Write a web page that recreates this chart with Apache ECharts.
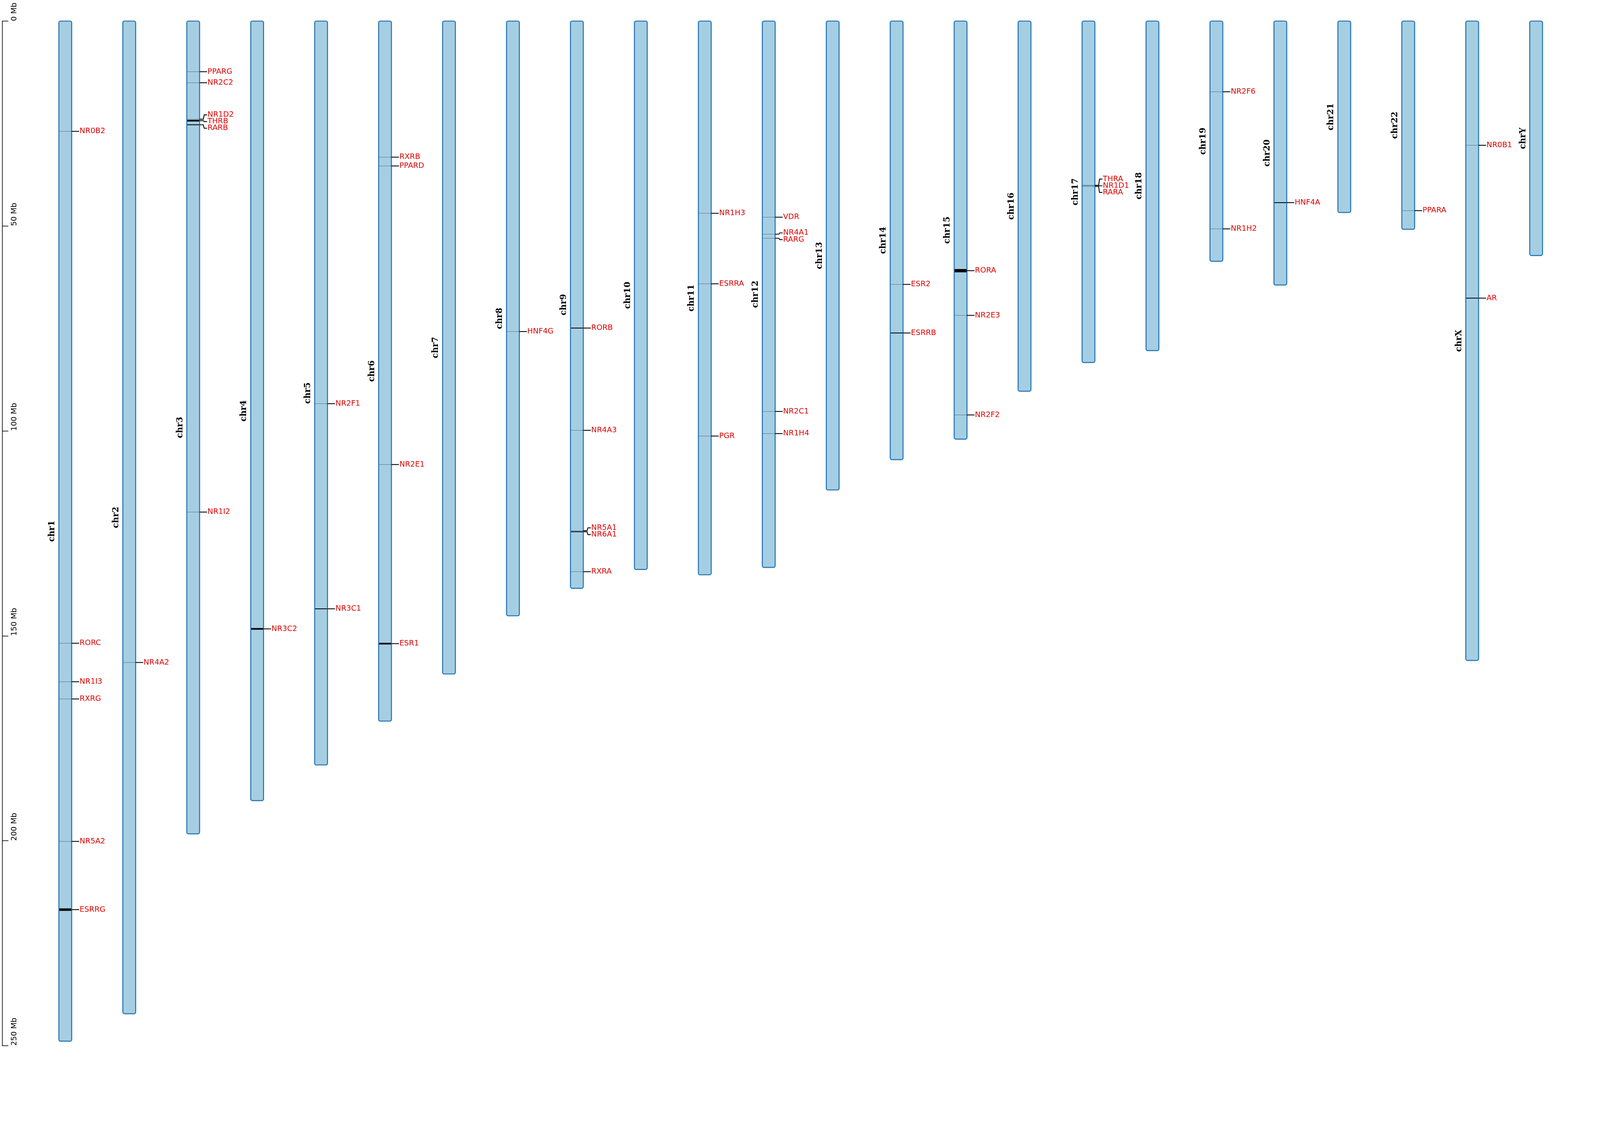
<!DOCTYPE html>
<html><head><meta charset="utf-8">
<script src="https://cdn.jsdelivr.net/npm/echarts@6/dist/echarts.min.js"></script>
<style>html,body{margin:0;padding:0;background:#fff;overflow:hidden}#c{width:100vw;height:100vh}</style>
</head><body><div id="c"></div>
<script>
const chromosomes = ['chr1','chr2','chr3','chr4','chr5','chr6','chr7','chr8','chr9','chr10','chr11','chr12','chr13','chr14','chr15','chr16','chr17','chr18','chr19','chr20','chr21','chr22','chrX','chrY'];
const chromLengthMb = [248.9,242.2,198.3,190.2,181.5,170.8,159.3,145.1,138.4,133.8,135.1,133.3,114.4,107.0,102.0,90.3,83.3,80.4,58.6,64.4,46.7,50.8,156.0,57.2];
const geneNames = ['NR0B2','RORC','NR1I3','RXRG','NR5A2','ESRRG','NR4A2','PPARG','NR2C2','NR1D2','THRB','RARB','NR1I2','NR3C2','NR2F1','NR3C1','RXRB','PPARD','NR2E1','ESR1','HNF4G','RORB','NR4A3','NR5A1','NR6A1','RXRA','NR1H3','ESRRA','PGR','VDR','NR4A1','RARG','NR2C1','NR1H4','ESR2','ESRRB','RORA','NR2E3','NR2F2','THRA','NR1D1','RARA','NR2F6','NR1H2','HNF4A','PPARA','NR0B1','AR'];
const geneChrom = ['chr1','chr1','chr1','chr1','chr1','chr1','chr2','chr3','chr3','chr3','chr3','chr3','chr3','chr4','chr5','chr5','chr6','chr6','chr6','chr6','chr8','chr9','chr9','chr9','chr9','chr9','chr11','chr11','chr11','chr12','chr12','chr12','chr12','chr12','chr14','chr14','chr15','chr15','chr15','chr17','chr17','chr17','chr19','chr19','chr20','chr22','chrX','chrX'];
const geneStartMb = [26.9,151.8,161.2,165.4,200.1,216.5,156.5,12.3,15.0,23.9,24.1,25.2,119.8,148.1,93.3,143.3,33.2,35.3,108.2,151.7,75.7,74.8,99.8,124.3,124.5,134.3,46.9,64.1,101.2,47.8,52.0,53.0,95.2,100.6,64.2,76.0,60.5,71.8,96.1,40.1,40.1,40.3,17.2,50.7,44.2,46.2,30.3,67.5];
const geneEndMb   = [26.9,151.8,161.2,165.4,200.2,217.1,156.5,12.4,15.1,24.0,24.5,25.4,119.8,148.5,93.4,143.5,33.2,35.4,108.2,152.1,75.8,75.0,99.9,124.4,124.7,134.4,46.9,64.1,101.3,47.9,52.0,53.0,95.3,100.7,64.3,76.2,61.3,71.8,96.1,40.1,40.1,40.4,17.3,50.7,44.4,46.3,30.3,67.7];
const axisTicksMb = [0,50,100,150,200,250];
const axisTickLabels = ['0 Mb','50 Mb','100 Mb','150 Mb','200 Mb','250 Mb'];

const el = document.getElementById('c');
const W = el.clientWidth, H = el.clientHeight;
const S = W/7646, SY = H/2940;
const chart = echarts.init(el);
const PITCH = 305.6, LEFT = 10, FIRST = 312;
const xmin = -(FIRST-LEFT)/PITCH, xmax = xmin + (7646-LEFT)/PITCH;
const HALFW = 0.1;

const chromData = chromosomes.map((c,i)=>[i, 0, chromLengthMb[i]]);
const geneData = geneNames.map((g,i)=>[chromosomes.indexOf(geneChrom[i]), geneStartMb[i], geneEndMb[i]]);

function layoutLabels(api){
  const res = new Array(geneData.length);
  const SP = 32*S;
  chromosomes.forEach((c,ci)=>{
    const idx = geneData.map((d,i)=>i).filter(i=>geneData[i][0]===ci)
      .sort((a,b)=>(geneData[a][1]+geneData[a][2])-(geneData[b][1]+geneData[b][2]));
    let groups = idx.map(i=>{const y=(api.coord([0,geneData[i][1]])[1]+api.coord([0,geneData[i][2]])[1])/2; return {ids:[i], ys:[y]};});
    const place = g=>{const m=g.ys.reduce((a,b)=>a+b,0)/g.ys.length; g.top = m-(g.ids.length-1)*SP/2;};
    groups.forEach(place);
    let changed = true;
    while(changed){
      changed=false;
      for(let k=0;k<groups.length-1;k++){
        const a=groups[k], b=groups[k+1];
        if(a.top+(a.ids.length)*SP > b.top){
          a.ids=a.ids.concat(b.ids); a.ys=a.ys.concat(b.ys); place(a);
          groups.splice(k+1,1); changed=true; break;
        }
      }
    }
    groups.forEach(g=>g.ids.forEach((id,k)=>res[id]=g.top+k*SP));
  });
  return res;
}
let labelYs = null;

const option = {
  animation:false,
  backgroundColor:'#fff',
  grid:{left:LEFT*S,right:0,top:54*SY,bottom:262*SY},
  xAxis:{type:'value',min:xmin,max:xmax,show:false},
  yAxis:{type:'value',min:0,max:250,interval:50,inverse:true,position:'left',
    axisLine:{show:true,onZero:false,lineStyle:{color:'#000',width:3*S}},
    axisTick:{show:true,inside:true,length:30*S,lineStyle:{color:'#000',width:3*S}},
    axisLabel:{show:false},splitLine:{show:false}},
  series:[
    {type:'custom',data:axisTicksMb.map(v=>[0,v]),z:3,
      renderItem:(p,api)=>{
        const y=api.coord([0,api.value(1)])[1];
        return {type:'text',x:70*S,y:y,rotation:Math.PI/2,
          style:{text:axisTickLabels[p.dataIndex],fill:'#000',font:(36*S)+'px "DejaVu Sans"',align:'left',verticalAlign:'middle'}};
      }},
    {type:'custom',data:chromData,z:2,
      renderItem:(p,api)=>{
        const i=api.value(0);
        const a=api.coord([i-HALFW,0]), b=api.coord([i+HALFW,api.value(2)]);
        const mid=(a[1]+b[1])/2;
        return {type:'group',children:[
          {type:'rect',shape:{x:a[0],y:a[1],width:b[0]-a[0],height:b[1]-a[1],r:8*S},
            style:{fill:'#a6cee3',stroke:'#2878b5',lineWidth:5*S}},
          {type:'text',x:a[0]-32*S,y:mid,rotation:Math.PI/2,
            style:{text:chromosomes[i],fill:'#000',font:'bold '+(40*S)+'px "DejaVu Serif"',align:'center',verticalAlign:'middle'}}
        ]};
      }},
    {type:'custom',data:geneData,z:4,
      renderItem:(p,api)=>{
        if(p.dataIndex===0 || !labelYs) labelYs = layoutLabels(api);
        const i=api.value(0);
        const l=api.coord([i-HALFW,api.value(1)]), r=api.coord([i+HALFW,api.value(2)]);
        const h=Math.max(2*S,r[1]-l[1]);
        const gy=(l[1]+r[1])/2;
        const ly=labelYs[p.dataIndex];
        const x0=r[0];
        return {type:'group',children:[
          {type:'rect',shape:{x:l[0]+2*S,y:gy-h/2,width:r[0]-l[0]-4*S,height:h},style:{fill:'#000',opacity:h>3*S?1:0.45}},
          {type:'polyline',shape:{points:[[x0,gy],[x0+18*S,gy],[x0+22*S,ly],[x0+36*S,ly]]},style:{stroke:'#000',lineWidth:4*S,fill:null}},
          {type:'text',x:x0+38*S,y:ly,style:{text:geneNames[p.dataIndex],fill:'#e00000',font:(36*S)+'px "DejaVu Sans"',align:'left',verticalAlign:'middle'}}
        ]};
      }}
  ]
};
chart.setOption(option);
</script></body></html>
